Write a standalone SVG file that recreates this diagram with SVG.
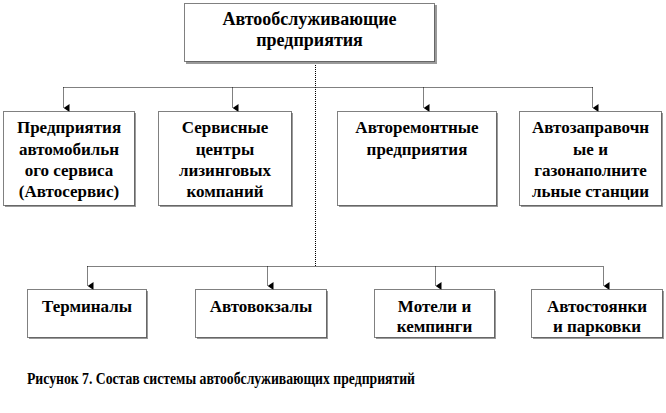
<svg xmlns="http://www.w3.org/2000/svg" width="666" height="413" viewBox="0 0 666 413">
<style>
.box{fill:#fff;stroke:#000;stroke-width:1;stroke-dasharray:1 1}
.sh{fill:#9a9a9a}
.t{font-weight:700;font-size:17px;fill:#000;text-anchor:middle}
.tt{font-size:18px}
.ln{fill:none;stroke:#000;stroke-width:1;stroke-dasharray:1 1}
.cap{font-weight:700;font-size:16px;fill:#000}
</style>
<defs>
<marker id="ah" viewBox="0 0 8 6" refX="4" refY="6" markerWidth="8" markerHeight="6" markerUnits="userSpaceOnUse" orient="auto-start-reverse">
<path d="M0,0 L8,0 L4,6 Z" fill="#000"/>
</marker>
</defs>
<rect width="666" height="413" fill="#fff"/>
<g id="connectors">
<path class="ln" d="M315.5,63 V266.5"/>
<path class="ln" d="M63.5,87.5 H592.5"/>
<path class="ln" d="M63.5,87.5 V108" marker-end="url(#ah)"/>
<path class="ln" d="M232.5,87.5 V108" marker-end="url(#ah)"/>
<path class="ln" d="M423.5,87.5 V108" marker-end="url(#ah)"/>
<path class="ln" d="M592.5,87.5 V108" marker-end="url(#ah)"/>
<path class="ln" d="M87.5,266.5 H603.5"/>
<path class="ln" d="M87.5,266.5 V286" marker-end="url(#ah)"/>
<path class="ln" d="M267.5,266.5 V286" marker-end="url(#ah)"/>
<path class="ln" d="M435.5,266.5 V286" marker-end="url(#ah)"/>
<path class="ln" d="M603.5,266.5 V286" marker-end="url(#ah)"/>
</g>
<g font-family="Liberation Serif, Times New Roman, DejaVu Serif, serif">
<g id="root">
<rect class="sh" x="186" y="5" width="251" height="59"/>
<rect class="box" x="184.5" y="3.5" width="250" height="58"/>
<text class="t tt" x="309.5" y="25">Автообслуживающие</text>
<text class="t tt" x="309.5" y="46">предприятия</text>
</g>
<g id="n1">
<rect class="sh" x="5" y="113" width="131" height="94"/>
<rect class="box" x="3.5" y="111.5" width="131" height="94"/>
<text class="t" x="69" y="133">Предприятия</text>
<text class="t" x="69" y="155">автомобильн</text>
<text class="t" x="69" y="176">ого сервиса</text>
<text class="t" x="69" y="197">(Автосервис)</text>
</g>
<g id="n2">
<rect class="sh" x="160" y="113" width="133" height="94"/>
<rect class="box" x="158.5" y="111.5" width="133" height="94"/>
<text class="t" x="225" y="133">Сервисные</text>
<text class="t" x="225" y="155">центры</text>
<text class="t" x="225" y="176">лизинговых</text>
<text class="t" x="225" y="197">компаний</text>
</g>
<g id="n3">
<rect class="sh" x="339" y="113" width="159" height="94"/>
<rect class="box" x="337.5" y="111.5" width="159" height="94"/>
<text class="t" x="417" y="133">Авторемонтные</text>
<text class="t" x="417" y="155">предприятия</text>
</g>
<g id="n4">
<rect class="sh" x="521" y="113" width="142" height="94"/>
<rect class="box" x="519.5" y="111.5" width="142" height="94"/>
<text class="t" x="590.5" y="133">Автозаправочн</text>
<text class="t" x="590.5" y="155">ые и</text>
<text class="t" x="590.5" y="176">газонаполните</text>
<text class="t" x="590.5" y="197">льные станции</text>
</g>
<g id="b1">
<rect class="sh" x="29" y="291" width="119" height="48"/>
<rect class="box" x="27.5" y="289.5" width="119" height="48"/>
<text class="t" x="87" y="312">Терминалы</text>
</g>
<g id="b2">
<rect class="sh" x="197" y="291" width="131" height="48"/>
<rect class="box" x="195.5" y="289.5" width="131" height="48"/>
<text class="t" x="261" y="312">Автовокзалы</text>
</g>
<g id="b3">
<rect class="sh" x="376" y="291" width="120" height="48"/>
<rect class="box" x="374.5" y="289.5" width="120" height="48"/>
<text class="t" x="434.5" y="312">Мотели и</text>
<text class="t" x="434.5" y="332">кемпинги</text>
</g>
<g id="b4">
<rect class="sh" x="533" y="291" width="131" height="48"/>
<rect class="box" x="531.5" y="289.5" width="131" height="48"/>
<text class="t" x="597" y="312">Автостоянки</text>
<text class="t" x="597" y="332">и парковки</text>
</g>
<text class="cap" x="27" y="384" textLength="388" lengthAdjust="spacingAndGlyphs">Рисунок 7. Состав системы автообслуживающих предприятий</text>
</g>
</svg>
